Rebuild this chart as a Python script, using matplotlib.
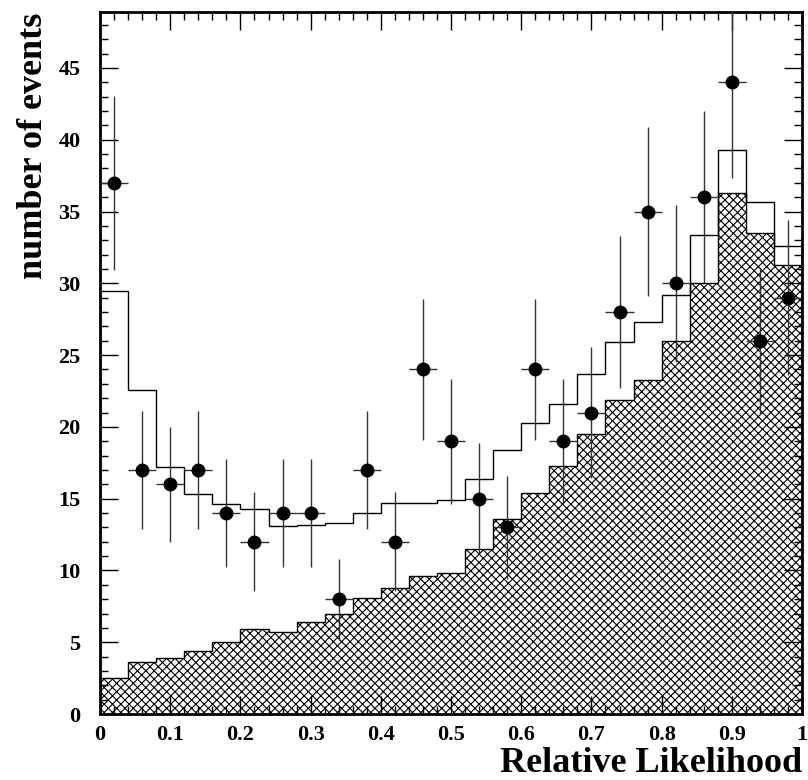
import numpy as np
import matplotlib
matplotlib.use("Agg")
import matplotlib.pyplot as plt
from matplotlib.ticker import MultipleLocator

# Bin edges of the relative likelihood histogram (25 bins of 0.04)
bin_edges = np.linspace(0.0, 1.0, 26)

# Observed data (number of events per bin)
data_counts = [37, 17, 16, 17, 14, 12, 14, 14, 8, 17, 12, 24, 19,
               15, 13, 24, 19, 21, 28, 35, 30, 36, 44, 26, 29]

# Total expectation (open histogram)
total_expected = [29.5, 22.6, 17.2, 15.3, 14.6, 14.3, 13.1, 13.2, 13.3, 14.0,
                  14.7, 14.7, 14.9, 16.4, 18.4, 20.3, 21.6, 23.7, 25.9, 27.3,
                  29.2, 33.4, 39.3, 35.7, 32.6]

# Signal part (hatched histogram)
signal_expected = [2.5, 3.6, 3.9, 4.4, 5.0, 5.9, 5.7, 6.4, 7.0, 8.1,
                   8.8, 9.6, 9.8, 11.5, 13.6, 15.4, 17.3, 19.5, 21.9, 23.3,
                   26.0, 30.0, 36.3, 33.5, 31.3]

plt.rcParams['font.family'] = ['Liberation Serif', 'DejaVu Serif']
plt.rcParams['font.weight'] = 'bold'
plt.rcParams['hatch.linewidth'] = 0.8

fig = plt.figure(figsize=(8.08, 7.80), dpi=100)
ax = fig.add_axes([0.1238, 0.0846, 0.8688, 0.9000])

centers = 0.5 * (bin_edges[:-1] + bin_edges[1:])
half_width = 0.5 * np.diff(bin_edges)

# hatched signal histogram
ax.stairs(signal_expected, bin_edges, fill=True, facecolor='white',
          edgecolor='black', hatch='xxxx', linewidth=0)
ax.stairs(signal_expected, bin_edges, color='black', linewidth=1.0)

# open total histogram
ax.stairs(total_expected, bin_edges, color='black', linewidth=1.0)

# data points with sqrt(N) errors
ax.errorbar(centers, data_counts, xerr=half_width, yerr=np.sqrt(data_counts),
            fmt='o', color='black', ecolor='#333333', elinewidth=1.0,
            markersize=9, capsize=0, zorder=5)

ax.set_xlim(0, 1)
ax.set_ylim(0, 48.9)

ax.xaxis.set_major_locator(MultipleLocator(0.1))
ax.xaxis.set_minor_locator(MultipleLocator(0.02))
ax.yaxis.set_major_locator(MultipleLocator(5))
ax.yaxis.set_minor_locator(MultipleLocator(1))
ax.xaxis.set_major_formatter(plt.FuncFormatter(lambda v, p: '%g' % round(v, 2)))

ax.tick_params(which='both', direction='in', top=True, right=True,
               labelsize=16, width=1.0)
ax.tick_params(which='major', length=13)
ax.tick_params(which='minor', length=6)
ax.tick_params(axis='x', which='major', pad=8)
ax.tick_params(axis='y', which='major', pad=14)
for lab in ax.get_xticklabels() + ax.get_yticklabels():
    lab.set_fontweight('bold')
for sp in ax.spines.values():
    sp.set_linewidth(2)

ax.set_xlabel('Relative Likelihood', fontsize=26, fontweight='bold')
ax.xaxis.set_label_coords(1.0, -0.0826)
ax.xaxis.label.set_horizontalalignment('right')
ax.xaxis.label.set_verticalalignment('baseline')
ax.set_ylabel('number of events', fontsize=26, fontweight='bold')
ax.yaxis.set_label_coords(-0.095, 0.999)
ax.yaxis.label.set_horizontalalignment('right')
ax.yaxis.label.set_verticalalignment('center')

fig.savefig('out.png', dpi=100)
